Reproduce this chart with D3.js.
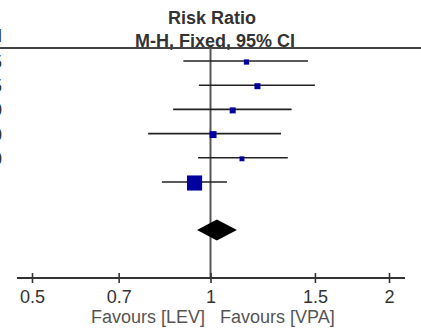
<!DOCTYPE html>
<html>
<head>
<meta charset="utf-8">
<script src="https://cdn.jsdelivr.net/npm/d3@7"></script>
<style>
  html, body { margin: 0; padding: 0; background: #fff; }
  svg { display: block; font-family: "Liberation Sans", Arial, sans-serif; }
</style>
</head>
<body>
<div id="chart"></div>
<script>
// study rows (risk ratio with 95% CI)
const studies = ['s1', 's2', 's3', 's4', 's5', 's6'];
const rr = [1.15, 1.20, 1.09, 1.01, 1.13, 0.94];
const lower = [0.90, 0.956, 0.865, 0.785, 0.953, 0.828];
const upper = [1.46, 1.50, 1.37, 1.315, 1.35, 1.066];
const weights = [7, 9, 9, 12, 6, 57];
// pooled estimate
const pooled = { rr: 1.025, lower: 0.949, upper: 1.108 };
// clipped column text on left edge
const leftCol = ['Total', '45', '35', '60', '40', '30'];
const tickValues = [0.5, 0.7, 1, 1.5, 2];
const tickLabels = ['0.5', '0.7', '1', '1.5', '2'];

const width = 421, height = 331;
const axisY = 278, headerY = 48;

const svg = d3.select('#chart').append('svg')
  .attr('width', width).attr('height', height);

const x = d3.scaleLog().domain([0.5, 2]).range([32, 389]);
const y = d3.scalePoint().domain(studies).range([61, 182]);
const side = d3.scaleSqrt().domain([0, 100]).range([0, 20]);

// titles
svg.append('text').attr('x', 212).attr('y', 24)
  .attr('text-anchor', 'middle').attr('font-size', 18).attr('font-weight', 'bold')
  .attr('fill', '#333').text('Risk Ratio');
svg.append('text').attr('x', 215).attr('y', 47)
  .attr('text-anchor', 'middle').attr('font-size', 18).attr('font-weight', 'bold')
  .attr('fill', '#333').text('M-H, Fixed, 95% CI');

// left column, mostly cut off
svg.selectAll('.leftcol').data(leftCol).enter().append('text')
  .attr('class', 'leftcol')
  .attr('x', 2)
  .attr('y', (d, i) => i === 0 ? 42 : y(studies[i - 1]) + 7)
  .attr('text-anchor', 'end').attr('font-size', 18)
  .attr('font-weight', (d, i) => i === 0 ? 'bold' : 'normal')
  .attr('fill', '#333').text(d => d);

// header rule
svg.append('line').attr('x1', 0).attr('x2', width)
  .attr('y1', headerY).attr('y2', headerY)
  .attr('stroke', '#444').attr('stroke-width', 2);

// line of no effect
svg.append('line').attr('x1', x(1)).attr('x2', x(1))
  .attr('y1', headerY).attr('y2', axisY)
  .attr('stroke', '#555').attr('stroke-width', 2);

// confidence intervals
svg.selectAll('.ci').data(studies).enter().append('line')
  .attr('class', 'ci')
  .attr('x1', (d, i) => x(lower[i])).attr('x2', (d, i) => x(upper[i]))
  .attr('y1', d => y(d)).attr('y2', d => y(d))
  .attr('stroke', '#222').attr('stroke-width', 1.6);

// weighted squares
svg.selectAll('.pt').data(studies).enter().append('rect')
  .attr('class', 'pt')
  .attr('x', (d, i) => x(rr[i]) - side(weights[i]) / 2)
  .attr('y', (d, i) => y(d) + 1 - side(weights[i]) / 2)
  .attr('width', (d, i) => side(weights[i]))
  .attr('height', (d, i) => side(weights[i]))
  .attr('fill', '#0000a0');

// pooled diamond
const dy = 230, dh = 10.5;
svg.append('path')
  .attr('d', `M${x(pooled.lower)},${dy}L${x(pooled.rr)},${dy - dh}L${x(pooled.upper)},${dy}L${x(pooled.rr)},${dy + dh}Z`)
  .attr('fill', '#000');

// axis
const axis = svg.append('g').attr('transform', `translate(0,${axisY})`)
  .call(d3.axisBottom(x).tickValues(tickValues).tickFormat((d, i) => tickLabels[i]).tickSize(5));
axis.select('.domain').remove();
axis.append('line').attr('x1', x.range()[0] - 15).attr('x2', x.range()[1] + 16)
  .attr('stroke', '#333').attr('stroke-width', 2);
axis.selectAll('.tick line').attr('y1', -5).attr('y2', 5)
  .attr('stroke', '#333').attr('stroke-width', 1.6);
axis.selectAll('.tick text').attr('y', 25).attr('dy', 0)
  .attr('font-size', 18).attr('font-family', 'Liberation Sans, Arial, sans-serif')
  .attr('fill', '#333');

// favours labels
svg.append('text').attr('x', 205).attr('y', 323).attr('text-anchor', 'end')
  .attr('font-size', 18).attr('fill', '#555').text('Favours [LEV]');
svg.append('text').attr('x', 220).attr('y', 323).attr('text-anchor', 'start')
  .attr('font-size', 18).attr('fill', '#555').text('Favours [VPA]');
</script>
</body>
</html>
